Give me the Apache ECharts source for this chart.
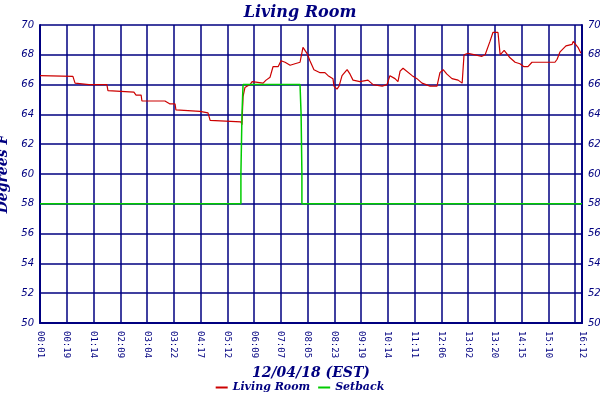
<!DOCTYPE html><html><head><meta charset="utf-8"><script src="https://cdn.jsdelivr.net/npm/echarts@6/dist/echarts.min.js"></script>
<style>body{margin:0;background:#fff}#c{width:600px;height:400px}</style></head><body><div id="c"></div><script>
const tickLabels=['00:01','00:19','01:14','02:09','03:04','03:22','04:17','05:12','06:09','07:07','08:05','08:23','09:19','10:14','11:11','12:06','13:02','13:20','14:15','15:10','16:05','16:12'];
const livingX=[0,1.23,1.27,1.31,1.83,2.24,2.5,2.54,3.51,3.59,3.78,3.81,4.67,4.86,5.05,5.08,5.98,6.28,6.32,6.36,7.51,7.55,7.59,7.66,7.85,7.93,8.34,8.45,8.6,8.71,8.9,9.01,9.16,9.35,9.53,9.72,9.83,9.98,10.09,10.24,10.47,10.65,10.77,10.84,10.95,10.99,11.1,11.18,11.29,11.48,11.59,11.7,11.96,12.26,12.45,12.79,12.97,13.08,13.27,13.38,13.46,13.57,13.91,14.09,14.28,14.58,14.84,14.95,15.07,15.21,15.4,15.63,15.78,15.85,16.0,16.26,16.52,16.64,16.82,16.93,17.12,17.2,17.35,17.57,17.76,17.94,18.09,18.24,18.39,19.25,19.33,19.44,19.66,19.89,19.93,20.11,20.22];
const livingY=[66.6,66.55,66.5,66.1,66.0,66.0,66.0,65.6,65.5,65.3,65.3,64.9,64.9,64.7,64.7,64.3,64.2,64.1,64.1,63.6,63.5,63.3,65.2,65.8,66.0,66.2,66.1,66.3,66.5,67.2,67.2,67.6,67.5,67.3,67.4,67.5,68.5,68.1,67.6,67.0,66.8,66.8,66.6,66.6,66.4,65.9,65.7,65.9,66.6,67.0,66.7,66.3,66.2,66.3,66.0,65.9,66.0,66.6,66.4,66.2,66.9,67.1,66.6,66.4,66.1,65.9,65.9,66.8,67.0,66.7,66.4,66.3,66.1,68.0,68.1,68.0,67.9,68.0,68.9,69.5,69.5,68.0,68.3,67.8,67.5,67.4,67.2,67.2,67.5,67.5,67.7,68.2,68.6,68.7,68.9,68.5,68.1];
const setbackX=[0,7.51,7.51,7.55,7.59,9.72,9.76,9.79,9.79,20.26];
const setbackY=[58,58,60,64,66,66,64,60,58,58];
const zip=(a,b)=>a.map((v,i)=>[v,b[i]]);
const navy='#000080',font='DejaVu Serif';
const yAxis=(pos)=>({type:'value',position:pos,min:50,max:70,interval:2,
 axisLine:{show:true,lineStyle:{color:navy,width:2}},axisTick:{show:false},
 splitLine:{show:pos==='left',lineStyle:{color:navy,width:1.5}},
 axisLabel:{color:navy,fontStyle:'italic',fontSize:10,fontFamily:'DejaVu Sans',margin:6},
 name:pos==='left'?'Degrees F':'',nameLocation:'middle',nameGap:24,
 nameTextStyle:{color:navy,fontStyle:'italic',fontWeight:'bold',fontSize:14,fontFamily:font}});
const ch=echarts.init(document.getElementById('c'));
ch.setOption({animation:false,backgroundColor:'#fff',
 title:{text:'Living Room',left:'center',top:0,textStyle:{color:navy,fontStyle:'italic',fontWeight:'bold',fontSize:16,fontFamily:font}},
 grid:{left:40,right:18,top:25,bottom:77,containLabel:false,outerBoundsMode:'none'},
 legend:{bottom:2,left:'center',itemWidth:12,itemHeight:2,icon:'rect',textStyle:{color:navy,fontStyle:'italic',fontWeight:'bold',fontSize:11,fontFamily:font},data:['Living Room','Setback']},
 xAxis:{type:'value',min:0,max:20.26,interval:1,
  axisLine:{lineStyle:{color:navy,width:2}},axisTick:{show:false},
  splitLine:{show:true,lineStyle:{color:navy,width:1.5}},
  axisLabel:{rotate:-90,color:navy,fontSize:9,fontFamily:'DejaVu Sans Mono',showMaxLabel:true,showMinLabel:true,hideOverlap:false,
   formatter:v=>v>20.1?tickLabels[21]:(tickLabels[Math.round(v)]||'')},
  name:'12/04/18 (EST)',nameLocation:'middle',nameGap:42,
  nameTextStyle:{color:navy,fontStyle:'italic',fontWeight:'bold',fontSize:14,fontFamily:font}},
 yAxis:[yAxis('left'),yAxis('right')],
 series:[
  {name:'Living Room',type:'line',data:zip(livingX,livingY),symbol:'none',color:'#cc0000',lineStyle:{width:1.2,color:'#cc0000'},z:3},
  {name:'Setback',type:'line',data:zip(setbackX,setbackY),symbol:'none',color:'#00cc00',lineStyle:{width:1.5,color:'#00cc00'},z:4}
 ]});
</script></body></html>
